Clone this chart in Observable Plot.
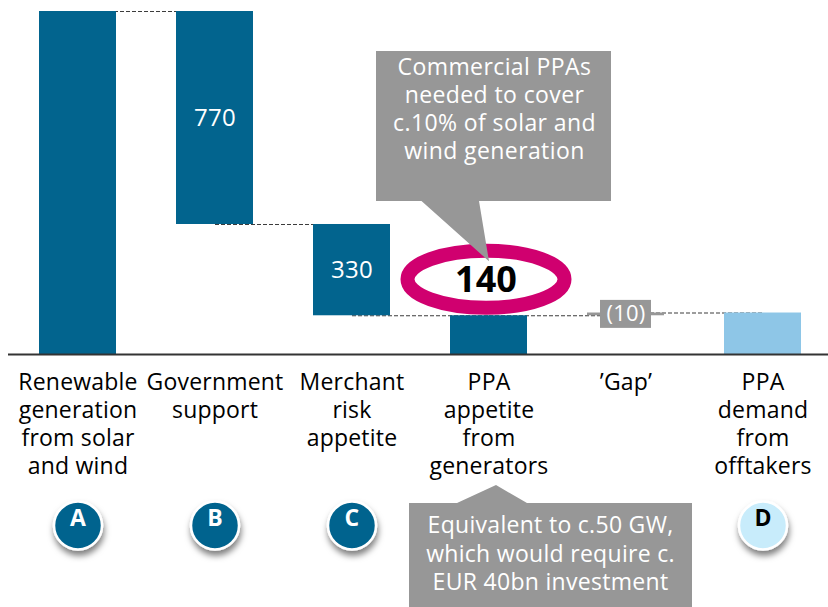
<!DOCTYPE html>
<html><head><meta charset="utf-8">
<script src="https://cdn.jsdelivr.net/npm/d3@7"></script>
<script src="https://cdn.jsdelivr.net/npm/@observablehq/plot@0.6"></script>
<style>body{margin:0;background:#fff;}</style>
</head><body><div id="chart"></div>
<script>
// ---- data ----
const categories = [
  "Renewable\ngeneration\nfrom solar\nand wind",
  "Government\nsupport",
  "Merchant\nrisk\nappetite",
  "PPA\nappetite\nfrom\ngenerators",
  "’Gap’",
  "PPA\ndemand\nfrom\nofftakers"
];
const barValues = [1240, 770, 330, 140, 10, 150];
const barTypes = ["total", "decrease", "decrease", "total", "increase", "total"];
const valueLabels = ["", "770", "330", "", "(10)", ""];
const badges = ["A", "B", "C", "", "", "D"];
const topCallout = ["Commercial PPAs", "needed to cover", "c.10% of solar and", "wind generation"];
const highlightValue = "140";
const bottomCallout = ["Equivalent to c.50 GW,", "which would require c.", "EUR 40bn investment"];

// ---- waterfall rows ----
let running = 0;
const rows = categories.map((cat, i) => {
  const v = barValues[i], t = barTypes[i];
  let y1, y2;
  if (t === "total") { y1 = 0; y2 = v; running = v; }
  else if (t === "decrease") { y2 = running; y1 = running - v; running -= v; }
  else { y1 = running; y2 = running + v; running += v; }
  return {cat, i, y1, y2, level: running, label: valueLabels[i], badge: badges[i], type: t};
});
const links = rows.slice(0, -1).map((r, i) => ({from: r.cat, to: rows[i + 1].cat, level: r.level}));

const DARK = "#02648e", LIGHT = "#8ec6e7", GREY = "#979797";
const fillFor = r => r.type === "increase" ? GREY : (r.i === rows.length - 1 ? LIGHT : DARK);

const plot = Plot.plot({
  width: 828, height: 607,
  marginTop: 11, marginBottom: 253, marginLeft: 13, marginRight: 1,
  x: {domain: categories, paddingInner: 0.44, paddingOuter: 0.18, axis: null},
  y: {domain: [0, 1240], axis: null},
  color: {type: "identity"},
  style: {fontFamily: "'Open Sans', sans-serif", background: "#fff"},
  marks: [
    Plot.link(links, {x1: "from", x2: "to", y1: "level", y2: "level", stroke: "#3c3c3c", strokeWidth: 1.1, strokeDasharray: "4,2"}),
    Plot.barY(rows, {x: "cat", y1: "y1", y2: "y2", fill: fillFor}),
    Plot.ruleY([0], {stroke: "#333", strokeWidth: 2, insetLeft: -5, insetRight: -1}),
    Plot.barY(rows.filter(r => r.type === "increase"), {x: "cat", y1: r => (r.y1 + r.y2) / 2, y2: r => (r.y1 + r.y2) / 2, fill: GREY, insetLeft: 13, insetRight: 13, insetTop: -14, insetBottom: -14}),
    Plot.text(rows.filter(r => r.label), {x: "cat", y: r => (r.y1 + r.y2) / 2, text: "label", fill: "white", fontSize: r => r.type === "increase" ? 22 : 24}),
    Plot.text(rows, {x: "cat", text: "cat", frameAnchor: "bottom", dy: 15, lineAnchor: "top", lineHeight: 1.23, fontSize: 23, fill: "#000"}),
    Plot.dot(rows.filter(r => r.badge), {x: "cat", frameAnchor: "bottom", dy: 171, r: 24, fill: r => r.badge === "D" ? "#c8ecfb" : DARK, stroke: "white", strokeWidth: 2.5}),
    Plot.text(rows.filter(r => r.badge), {x: "cat", text: "badge", frameAnchor: "bottom", dy: 171, fontSize: 23, fontWeight: "bold", fill: r => r.badge === "D" ? "#000" : "white"})
  ]
});
document.getElementById("chart").appendChild(plot);

// ---- annotations, anchored on the library's scales ----
const svg = d3.select(plot);
const xs = plot.scale("x"), ys = plot.scale("y");
const defs = svg.insert("defs", ":first-child");
defs.append("filter").attr("id", "sh").attr("x", "-50%").attr("y", "-50%").attr("width", "200%").attr("height", "200%")
  .append("feDropShadow").attr("dx", 1).attr("dy", 5).attr("stdDeviation", 3).attr("flood-color", "#000").attr("flood-opacity", 0.5);
svg.selectAll('g[aria-label="dot"]').attr("filter", "url(#sh)");
svg.selectAll('g[aria-label="text"]').raise();
svg.selectAll('g[aria-label="text"] text').attr("letter-spacing", "0.2px");

const ppa = rows[3];
const cx = xs.apply(ppa.cat) + xs.bandwidth / 2;
const yTop = ys.apply(ppa.y2);
const yBase = ys.apply(0);
const ann = svg.append("g").attr("font-family", "'Open Sans', sans-serif");

ann.append("ellipse").attr("cx", cx - 2.5).attr("cy", yTop - 36).attr("rx", 78.5).attr("ry", 28.5)
  .attr("fill", "none").attr("stroke", "#d0006f").attr("stroke-width", 14);

ann.append("path").attr("fill", GREY)
  .attr("d", `M${cx - 112.5},51 H${cx + 122.5} V201 H${cx - 9.5} L${cx + 0.5},${yTop - 54} L${cx - 67},201 H${cx - 112.5} Z`);
ann.append("text").attr("x", cx + 6).attr("y", 75).attr("text-anchor", "middle").attr("fill", "white").attr("font-size", 23).attr("letter-spacing", "0.4px")
  .selectAll("tspan").data(topCallout).join("tspan").attr("x", cx + 6).attr("dy", (d, i) => i ? 28 : 0).text(d => d);

ann.append("text").attr("x", cx - 2.5).attr("y", yTop - 23).attr("text-anchor", "middle").attr("fill", "#000")
  .attr("font-size", 36).attr("font-weight", "bold").text(highlightValue);

ann.append("path").attr("fill", GREY)
  .attr("d", `M${cx - 79.5},${yBase + 149} H${cx - 31.5} L${cx + 7.5},${yBase + 131} L${cx + 38.5},${yBase + 149} H${cx + 203.5} V607 H${cx - 79.5} Z`);
ann.append("text").attr("x", cx + 62).attr("y", yBase + 179).attr("text-anchor", "middle").attr("fill", "white").attr("font-size", 23).attr("letter-spacing", "0.3px")
  .selectAll("tspan").data(bottomCallout).join("tspan").attr("x", cx + 62).attr("dy", (d, i) => i ? 28.5 : 0).text(d => d);
</script>
</body></html>
